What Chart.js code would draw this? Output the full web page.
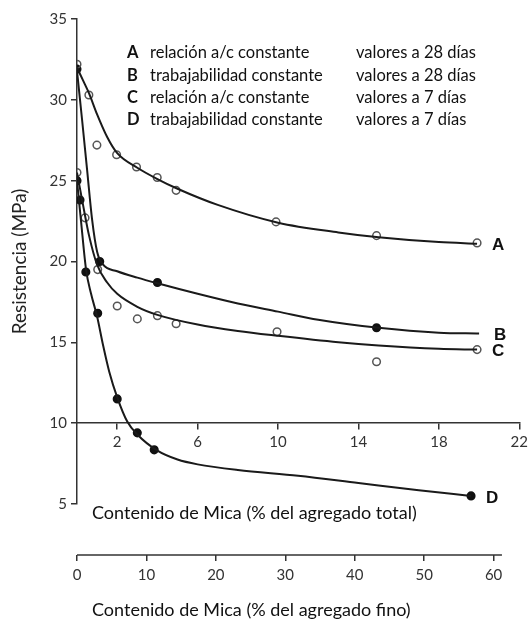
<!DOCTYPE html>
<html>
<head>
<meta charset="utf-8">
<title>Resistencia vs contenido de mica</title>
<script src="https://cdn.jsdelivr.net/npm/chart.js@4.4.1/dist/chart.umd.min.js"></script>
<style>
  html, body { margin: 0; padding: 0; background: #fff; }
</style>
</head>
<body>
<canvas id="mica" width="532" height="620"></canvas>
<script>
// curve labels and the key text
var curveNames = ["A", "B", "C", "D"];
var keyTexts = ["relación a/c constante", "trabajabilidad constante", "relación a/c constante", "trabajabilidad constante"];
var keyAges = ["valores a 28 días", "valores a 28 días", "valores a 7 días", "valores a 7 días"];

// ticks
var yTicks = [5, 10, 15, 20, 25, 30, 35];
var totalTicks = [2, 6, 10, 14, 18, 22];
var finoTicks = [0, 10, 20, 30, 40, 50, 60];

// measured points [% mica in total aggregate, MPa]
var marksA = [[0, 32.2], [0.59, 30.3], [0.99, 27.2], [1.97, 26.6], [2.96, 25.85], [3.99, 25.2], [4.93, 24.4], [9.9, 22.45], [14.9, 21.6], [19.9, 21.15]];
var marksB = [[0, 31.9], [1.13, 20.0], [4.0, 18.7], [14.9, 15.9]];
var marksC = [[0, 25.5], [0.4, 22.7], [1.03, 19.5], [2.0, 17.25], [3.0, 16.45], [4.0, 16.65], [4.93, 16.15], [9.95, 15.65], [14.9, 13.8], [19.9, 14.55]];
var marksD = [[0, 25.0], [0.15, 23.8], [0.44, 19.35], [1.03, 16.8], [2.0, 11.5], [3.0, 9.4], [3.84, 8.35], [19.6, 5.5]];

// fitted curves
var curveA = [[0, 32.0], [0.3, 31.2], [0.6, 30.4], [1, 29.1], [1.5, 27.7], [2, 26.7], [3, 25.8], [4, 25.1], [5, 24.5], [7, 23.5], [10, 22.4], [13, 21.8], [15, 21.5], [18, 21.2], [19.9, 21.1]];
var curveB = [[0, 31.8], [0.25, 28.8], [0.5, 25.7], [0.75, 22.6], [1.0, 20.6], [1.3, 19.8], [2, 19.4], [3, 19.0], [4, 18.65], [6, 18.0], [8, 17.4], [10, 16.9], [12, 16.4], [15, 15.9], [18, 15.6], [20, 15.55]];
var curveC = [[0, 25.5], [0.3, 23.5], [0.6, 21.6], [1.0, 19.8], [1.5, 18.7], [2, 18.0], [3, 17.2], [4, 16.7], [6, 16.1], [8, 15.7], [10, 15.4], [13, 15.0], [15, 14.8], [18, 14.6], [19.9, 14.55]];
var curveD = [[0, 25.0], [0.2, 22.5], [0.45, 19.5], [0.7, 18.0], [1.0, 16.6], [1.3, 14.8], [1.6, 13.2], [2, 11.6], [2.5, 10.1], [3, 9.3], [4, 8.3], [5, 7.75], [6, 7.45], [8, 7.1], [11, 6.75], [14, 6.3], [17, 5.85], [19.6, 5.5]];

var curves = [curveA, curveB, curveC, curveD];
var marks = [marksA, marksB, marksC, marksD];
var filled = [false, true, false, true];

var ink = '#1a1a1a';
var textFont = 'Lato';

function toXY(list) {
  return list.map(function (p) { return { x: p[0], y: p[1] }; });
}

var datasets = [];
curves.forEach(function (c, i) {
  datasets.push({
    type: 'line',
    label: curveNames[i],
    data: toXY(c),
    borderColor: ink,
    borderWidth: 2,
    pointRadius: 0,
    fill: false,
    cubicInterpolationMode: 'monotone'
  });
});
marks.forEach(function (m, i) {
  datasets.push({
    type: 'scatter',
    label: curveNames[i] + ' puntos',
    data: toXY(m),
    pointRadius: 3.8,
    pointBorderWidth: 1.5,
    pointBorderColor: filled[i] ? '#111' : '#555',
    pointBackgroundColor: filled[i] ? '#111' : 'rgba(255,255,255,0)'
  });
});

function setTicks(values) {
  return function (scale) {
    scale.ticks = values.map(function (v) { return { value: v }; });
  };
}

// key block, curve letters, x titles and the short lower axis line
var notes = {
  id: 'notes',
  afterDraw: function (chart) {
    var ctx = chart.ctx;
    var sx = chart.scales.x, sy = chart.scales.y, fino = chart.scales.fino;
    ctx.save();
    ctx.fillStyle = '#111';
    ctx.textBaseline = 'middle';
    ctx.textAlign = 'left';

    curveNames.forEach(function (name, i) {
      var ty = 53 + i * 22.3;
      ctx.font = 'bold 16.5px ' + textFont;
      ctx.fillText(name, 127, ty);
      ctx.font = '16.5px ' + textFont;
      ctx.fillText(keyTexts[i], 150, ty);
      ctx.fillText(keyAges[i], 356, ty);
    });

    ctx.font = 'bold 17px "Liberation Sans"';
    curves.forEach(function (c, i) {
      var last = c[c.length - 1];
      ctx.fillText(curveNames[i], sx.getPixelForValue(last[0]) + 15, sy.getPixelForValue(last[1]) + 2);
    });

    ctx.font = '18px ' + textFont;
    ctx.fillText('Contenido de Mica (% del agregado total)', 92, 513);
    ctx.fillText('Contenido de Mica (% del agregado fino)', 92, 610);

    ctx.strokeStyle = '#333';
    ctx.lineWidth = 1.5;
    ctx.beginPath();
    ctx.moveTo(fino.getPixelForValue(0), fino.top);
    ctx.lineTo(fino.getPixelForValue(61.2), fino.top);
    ctx.stroke();
    ctx.restore();
  }
};

var axisColor = '#333';

new Chart(document.getElementById('mica'), {
  type: 'scatter',
  data: { datasets: datasets },
  plugins: [notes],
  options: {
    responsive: false,
    animation: false,
    layout: { padding: { top: 19, right: 9, left: 0, bottom: 0 } },
    plugins: {
      legend: { display: false },
      tooltip: { enabled: false }
    },
    scales: {
      y: {
        type: 'linear',
        min: 5,
        max: 35,
        afterBuildTicks: setTicks(yTicks),
        afterFit: function (s) { s.width = 77; },
        grid: { drawOnChartArea: false, tickLength: 6, color: axisColor, lineWidth: 1.5 },
        border: { color: axisColor, width: 1.5 },
        ticks: { color: '#333', padding: 4, font: { family: textFont, size: 15 } },
        title: {
          display: true,
          text: 'Resistencia (MPa)',
          color: '#222',
          font: { family: textFont, size: 19 },
          padding: { top: 8, bottom: 0 }
        }
      },
      x: {
        type: 'linear',
        position: { y: 10 },
        min: 0,
        max: 22,
        afterBuildTicks: setTicks(totalTicks),
        grid: { drawOnChartArea: false, tickLength: 6, color: axisColor, lineWidth: 1.5 },
        border: { color: axisColor, width: 1.5 },
        ticks: { color: '#333', padding: 4, font: { family: textFont, size: 15 } }
      },
      gap: {
        type: 'linear',
        position: 'bottom',
        weight: 1,
        grid: { display: false },
        border: { display: false },
        ticks: { display: false },
        afterFit: function (s) { s.height = 51; }
      },
      fino: {
        type: 'linear',
        position: 'bottom',
        weight: 2,
        min: 0,
        max: 63.7,
        afterBuildTicks: setTicks(finoTicks),
        afterFit: function (s) { s.height = 65; },
        grid: { drawOnChartArea: false, tickLength: 6, color: axisColor, lineWidth: 1.5 },
        border: { display: false },
        ticks: { color: '#333', padding: 5, font: { family: textFont, size: 15 } }
      }
    }
  }
});
</script>
</body>
</html>
